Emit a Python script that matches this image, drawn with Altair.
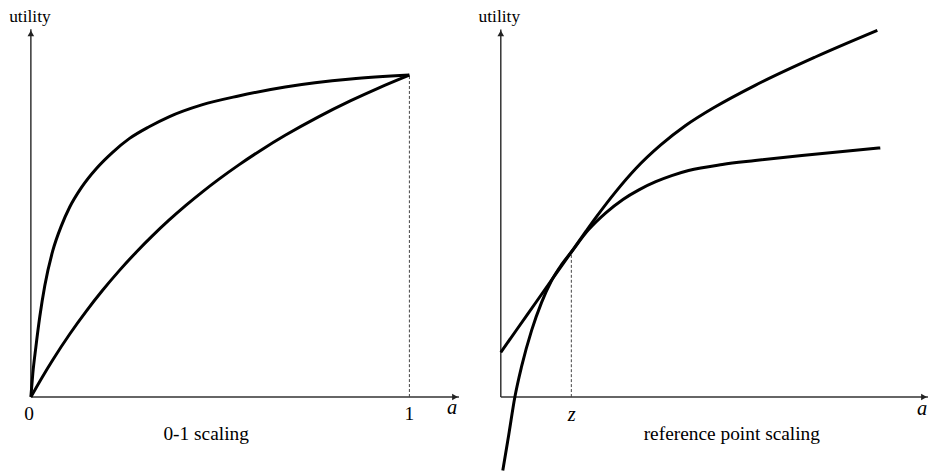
import altair as alt
import pandas as pd

FONT = "Liberation Serif"
W, H = 930, 467

# ---------------- left panel: 0-1 scaling ----------------
left_steep_x = [0, 0.00525, 0.01312, 0.02362, 0.03675, 0.05774, 0.08136, 0.10236, 0.13386, 0.17323,
                0.21522, 0.25984, 0.31234, 0.36483, 0.45144, 0.54856, 0.67192, 0.84514, 1.0]
left_steep_y = [0, 0.0741, 0.1543, 0.2500, 0.3457, 0.4537, 0.5340, 0.5895, 0.6512, 0.7099,
                0.7593, 0.8025, 0.8395, 0.8704, 0.9074, 0.9352, 0.9630, 0.9877, 1.0]
left_mild_x = [0, 0.02887, 0.05774, 0.10236, 0.14698, 0.18898, 0.23360, 0.27822, 0.32021, 0.36483,
               0.40945, 0.45407, 0.49606, 0.54856, 0.60892, 0.67192, 0.75853, 0.84514, 0.92126, 1.0]
left_mild_y = [0, 0.0593, 0.1150, 0.1948, 0.2675, 0.3306, 0.3925, 0.4497, 0.4996, 0.5491,
               0.5951, 0.6381, 0.6760, 0.7203, 0.7675, 0.8128, 0.8694, 0.9204, 0.9612, 1.0]
left_axis_end = [1.131, 1.142]          # x-axis end, y-axis end (arrow tips)
left_drop = [1.0, 1.0]                  # dashed guide at a = 1 up to utility 1
left_text = ["utility", "0", "1", "0-1 scaling"]
left_text_x = [-0.0026, -0.005, 1.0, 0.463]
left_text_y = [1.1636, -0.0725, -0.0725, -0.1327]
left_text_size = [17.5, 19.5, 19.5, 19.5]
left_ital = ["a"]
left_ital_x = [1.113]
left_ital_y = [-0.0525]
left_xdom = [-0.0604, 2.3806]
left_ydom = [-0.2377, 1.2037]

# ---------------- right panel: reference point scaling ----------------
right_line_x = [0, 0.366, 0.789, 1.0, 1.211, 1.352, 1.634, 1.915, 2.268, 2.620, 3.042, 3.606, 4.451, 5.338]
right_line_y = [0.634, 1.154, 1.755, 2.055, 2.354, 2.549, 2.915, 3.239, 3.573, 3.848, 4.114, 4.418, 4.816, 5.197]
right_curve_x = [0.028, 0.113, 0.197, 0.296, 0.437, 0.577, 0.718, 0.859, 1.0, 1.239, 1.493, 1.732,
                 1.958, 2.197, 2.423, 2.662, 3.141, 3.606, 4.268, 5.380]
right_curve_y = [-1.042, -0.535, -0.014, 0.437, 0.944, 1.338, 1.648, 1.873, 2.056, 2.366, 2.614, 2.801,
                 2.937, 3.052, 3.138, 3.210, 3.296, 3.352, 3.425, 3.531]
right_axis_end = [6.056, 5.211]
right_drop = [1.0, 2.056]               # dashed guide at a = z
right_text = ["utility", "reference point scaling"]
right_text_x = [-0.021, 3.275]
right_text_y = [5.310, -0.606]
right_text_size = [17.5, 19.5]
right_ital = ["z", "a"]
right_ital_x = [1.007, 5.972]
right_ital_y = [-0.334, -0.249]
right_xdom = [-6.986, 6.113]
right_ydom = [-1.084, 5.493]


def panel(curves, axis_end, drop, txt, tx, ty, tsize, ital, ix, iy, xdom, ydom):
    xs = alt.Scale(domain=xdom, nice=False, zero=False)
    ys = alt.Scale(domain=ydom, nice=False, zero=False)

    def X(f):
        return alt.X(f, type="quantitative", scale=xs, axis=None)

    def Y(f):
        return alt.Y(f, type="quantitative", scale=ys, axis=None)

    rows = []
    for name, (cx, cy) in curves.items():
        for i, (a, b) in enumerate(zip(cx, cy)):
            rows.append({"x": a, "y": b, "curve": name, "i": i})
    cdf = pd.DataFrame(rows)

    axes_df = pd.DataFrame({
        "x": [0, 0], "y": [0, 0],
        "x2": [axis_end[0], 0], "y2": [0, axis_end[1]],
    })
    drop_df = pd.DataFrame({"x": [drop[0]], "y": [0], "y2": [drop[1]]})
    xr = (xdom[1] - xdom[0]) / W
    yr = (ydom[1] - ydom[0]) / H
    arrow_r = pd.DataFrame({"x": [axis_end[0] - 4 * xr], "y": [0]})
    arrow_u = pd.DataFrame({"x": [0], "y": [axis_end[1] - 4 * yr]})
    tdf = pd.DataFrame({"x": tx, "y": ty, "t": txt, "fs": tsize})
    idf = pd.DataFrame({"x": ix, "y": iy, "t": ital})

    axes = alt.Chart(axes_df).mark_rule(color="#333333", strokeWidth=1.5).encode(
        x=X("x"), y=Y("y"), x2="x2", y2="y2")
    dashed = alt.Chart(drop_df).mark_rule(color="#444444", strokeWidth=1, strokeDash=[3, 2]).encode(
        x=X("x"), y=Y("y"), y2="y2")
    lines = alt.Chart(cdf).mark_line(color="black", strokeWidth=3, interpolate="monotone").encode(
        x=X("x"), y=Y("y"), detail="curve:N", order="i:Q")
    ar = alt.Chart(arrow_r).mark_point(shape="triangle-right", filled=True, size=45,
                                       color="#222222", opacity=1).encode(x=X("x"), y=Y("y"))
    au = alt.Chart(arrow_u).mark_point(shape="triangle-up", filled=True, size=45,
                                       color="#222222", opacity=1).encode(x=X("x"), y=Y("y"))
    texts = alt.Chart(tdf).mark_text(font=FONT, color="black", align="center",
                                     baseline="alphabetic").encode(
        x=X("x"), y=Y("y"), text="t:N", size=alt.Size("fs:Q", scale=None, legend=None))
    itexts = alt.Chart(idf).mark_text(font=FONT, fontSize=20.5, fontStyle="italic", color="black",
                                      align="center", baseline="alphabetic").encode(
        x=X("x"), y=Y("y"), text="t:N")
    return alt.layer(axes, dashed, lines, ar, au, texts, itexts)


left = panel({"steep": (left_steep_x, left_steep_y), "mild": (left_mild_x, left_mild_y)},
             left_axis_end, left_drop, left_text, left_text_x, left_text_y, left_text_size,
             left_ital, left_ital_x, left_ital_y, left_xdom, left_ydom)
right = panel({"line": (right_line_x, right_line_y), "curve": (right_curve_x, right_curve_y)},
              right_axis_end, right_drop, right_text, right_text_x, right_text_y, right_text_size,
              right_ital, right_ital_x, right_ital_y, right_xdom, right_ydom)

chart = alt.layer(left, right).resolve_scale(x="independent", y="independent").properties(
    width=W, height=H, padding=0, autosize=alt.AutoSizeParams(type="none")
).configure_view(stroke=None)

chart.save("out.html", embed_options={"renderer": "svg", "actions": False})
